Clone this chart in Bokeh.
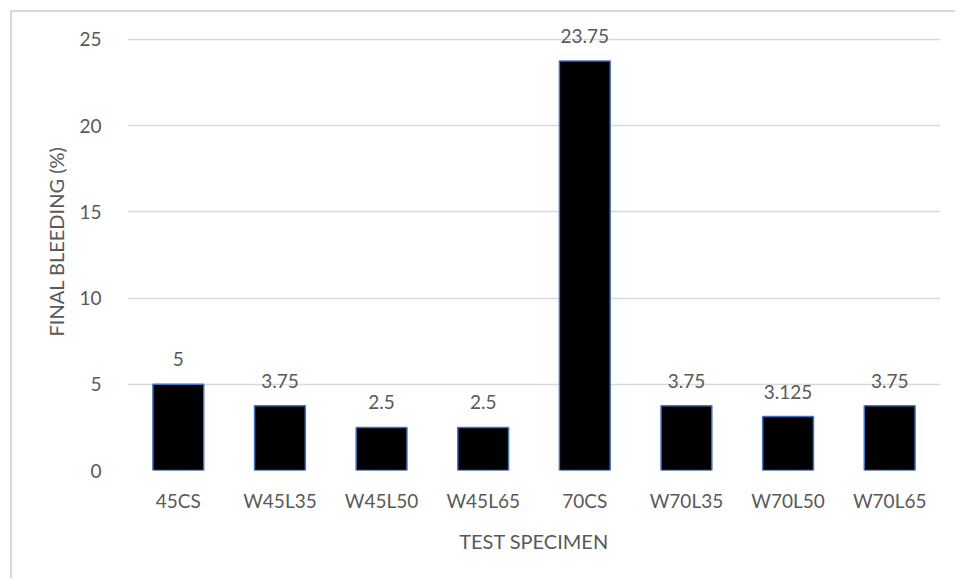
from bokeh.plotting import figure
from bokeh.models import ColumnDataSource, LabelSet, SingleIntervalTicker
from bokeh.core.properties import value
from bokeh.embed import file_html
from bokeh.resources import INLINE

# Final bleeding per test specimen
specimens = ["45CS", "W45L35", "W45L50", "W45L65", "70CS", "W70L35", "W70L50", "W70L65"]
bleeding = [5, 3.75, 2.5, 2.5, 23.75, 3.75, 3.125, 3.75]
bleeding_labels = ["5", "3.75", "2.5", "2.5", "23.75", "3.75", "3.125", "3.75"]

FONT = "Lato"
TEXT = "#595959"
GRID = "#d9d9d9"

src = ColumnDataSource(dict(x=specimens, top=bleeding, label=bleeding_labels))

# frame extends a little above 25 so the top value label has room
p = figure(
    width=945, height=568,
    x_range=specimens, y_range=(0, 26.566),
    output_backend="svg", toolbar_location=None,
    min_border_left=115, min_border_right=17,
    min_border_top=0, min_border_bottom=110,
)
p.margin = (10, 0, 0, 10)
p.styles = {"border-top": "2px solid #d9d9d9", "border-left": "2px solid #d9d9d9"}
p.outline_line_color = None
p.background_fill_color = "white"
p.border_fill_color = "white"

p.vbar(x="x", top="top", width=0.5, source=src,
       fill_color="black", line_color="#4472C4", line_width=1.5)

p.add_layout(LabelSet(x="x", y="top", text="label", source=src,
                      text_align="center", text_baseline="alphabetic", y_offset=18,
                      text_font=value(FONT), text_font_size="19px", text_color=TEXT))

p.yaxis.ticker = SingleIntervalTicker(interval=5)
p.ygrid.grid_line_color = GRID
p.ygrid.grid_line_width = 1.3
p.xgrid.grid_line_color = None

for ax in (p.xaxis, p.yaxis):
    ax.axis_line_color = None
    ax.major_tick_line_color = None
    ax.minor_tick_line_color = None
    ax.major_tick_out = 0
    ax.major_tick_in = 0
    ax.major_label_text_font = FONT
    ax.major_label_text_font_size = "19px"
    ax.major_label_text_color = TEXT
    ax.axis_label_text_font = FONT
    ax.axis_label_text_font_size = "20px"
    ax.axis_label_text_color = TEXT
    ax.axis_label_text_font_style = "normal"

p.yaxis.major_label_standoff = 22
p.xaxis.major_label_standoff = 18
p.yaxis.axis_label = "FINAL BLEEDING (%)"
p.xaxis.axis_label = "TEST SPECIMEN"
p.yaxis.axis_label_standoff = 8
p.xaxis.axis_label_standoff = 14

open("out.html", "w").write(file_html(p, INLINE))
